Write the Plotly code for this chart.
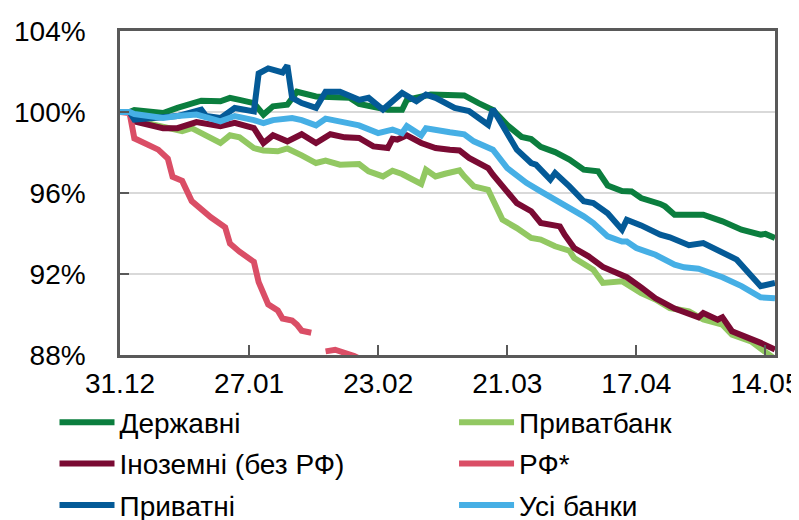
import pandas as pd
import plotly.graph_objects as go

# day offsets from 31.12 and index values (%, 31.12 = 100)
derzh_days = [0, 2, 3, 9, 12, 15, 17, 21, 23, 25, 28, 30, 32, 35, 37, 41, 48, 50, 56, 59,
              60, 65, 72, 75, 78, 81, 84, 86, 88, 91, 94, 97, 100, 102, 105, 107, 109, 113,
              114, 116, 119, 122, 126, 130, 134, 135, 137]
derzh_vals = [100.0, 100.0, 100.1, 99.95, 100.2, 100.44, 100.56, 100.53, 100.7, 100.6, 100.44,
              99.87, 100.28, 100.36, 101.0, 100.77, 100.7, 100.4, 100.11, 100.11, 100.6, 100.86,
              100.82, 100.44, 100.1, 99.35, 98.77, 98.66, 98.28, 98.02, 97.65, 97.15, 97.07,
              96.37, 96.1, 96.08, 95.75, 95.46, 95.34, 94.93, 94.9, 94.93, 94.6, 94.19, 93.94,
              93.98, 93.78]

pb_days = [0, 2, 3, 9, 13, 15, 21, 23, 25, 28, 30, 33, 35, 38, 41, 43, 46, 50, 52, 55, 57, 59,
           63, 64, 66, 68, 71, 72, 74, 77, 79, 80, 83, 86, 88, 91, 94, 95, 99, 101, 105, 108,
           109, 112, 115, 119, 122, 126, 128, 132, 135, 137]
pb_vals = [100.0, 100.0, 99.6, 99.3, 99.05, 99.2, 98.47, 98.85, 98.75, 98.22, 98.1, 98.06, 98.2,
           97.86, 97.48, 97.6, 97.4, 97.43, 97.07, 96.82, 97.1, 96.94, 96.45, 97.15, 96.82,
           96.95, 97.12, 96.82, 96.33, 96.16, 95.26, 94.68, 94.27, 93.78, 93.7, 93.37, 93.15,
           92.79, 92.21, 91.56, 91.64, 91.23, 91.06, 90.74, 90.32, 90.16, 89.75, 89.5, 89.0,
           88.67, 88.18, 87.8]

for_days = [0, 2, 3, 9, 12, 16, 21, 24, 28, 30, 32, 35, 38, 41, 44, 47, 50, 53, 56, 57, 58, 60,
            63, 66, 69, 71, 73, 77, 78, 81, 83, 86, 88, 92, 93, 95, 98, 101, 105, 106, 109, 112,
            116, 121, 122, 125, 126, 128, 134, 137]
for_vals = [100.0, 100.0, 99.54, 99.2, 99.2, 99.5, 99.3, 99.46, 99.2, 98.47, 98.85, 98.55, 98.9,
            98.47, 98.9, 98.75, 98.72, 98.3, 98.22, 98.68, 98.64, 98.85, 98.47, 98.22, 98.14,
            98.1, 97.73, 97.23, 96.9, 96.0, 95.5, 95.1, 94.52, 94.35, 93.94, 93.28, 92.87, 92.35,
            91.89, 91.84, 91.34, 90.8, 90.29, 89.86, 90.07, 89.74, 89.86, 89.17, 88.6, 88.27]

rf_days = [0, 2, 3, 8, 10, 11, 13, 15, 19, 22, 23, 25, 28, 29, 31, 33, 34, 36, 37, 38, 40, 41,
           43, 45, 49, 52]
rf_vals = [100.0, 99.95, 98.7, 98.14, 97.7, 96.8, 96.6, 95.6, 94.8, 94.3, 93.5, 93.1, 92.6, 91.6,
           90.5, 90.2, 89.8, 89.7, 89.5, 89.2, 89.1, None, 88.18, 88.26, 87.95, 87.6]

pr_days = [0, 2, 3, 9, 12, 17, 18, 21, 24, 28, 29, 31, 34, 35, 36, 38, 41, 43, 46, 50, 52, 55,
           59, 62, 64, 66, 70, 73, 75, 77, 78, 80, 81, 83, 86, 87, 90, 91, 94, 97, 99, 102, 105,
           106, 109, 113, 115, 119, 122, 126, 129, 134, 137]
pr_vals = [100.0, 100.0, 99.62, 99.7, 99.8, 100.12, 99.8, 99.7, 100.2, 100.03, 101.9, 102.15,
           101.95, 102.3, 100.7, 100.44, 100.2, 101.0, 101.0, 100.6, 100.7, 100.12, 100.94,
           100.53, 100.86, 100.7, 100.2, 100.05, 99.7, 99.37, 100.15, 99.3, 98.96, 98.14, 97.48,
           97.4, 96.66, 96.99, 96.33, 95.59, 95.5, 95.0, 94.19, 94.68, 94.4, 93.94, 93.81, 93.42,
           93.53, 93.04, 92.71, 91.4, 91.56]

all_days = [0, 2, 3, 9, 12, 16, 21, 24, 28, 30, 32, 36, 38, 41, 43, 50, 54, 57, 59, 60, 63, 64,
            69, 72, 74, 78, 81, 85, 88, 91, 93, 97, 99, 102, 105, 106, 108, 112, 116, 118, 121,
            126, 130, 134, 137]
all_vals = [100.0, 100.0, 99.9, 99.7, 99.8, 99.87, 99.54, 99.8, 99.6, 99.45, 99.6, 99.7, 99.6,
            99.34, 99.67, 99.34, 98.96, 99.13, 98.96, 99.3, 98.85, 99.2, 99.0, 98.9, 98.55,
            98.14, 97.23, 96.5, 96.08, 95.67, 95.43, 94.85, 94.52, 93.86, 93.6, 93.6, 93.28,
            92.95, 92.46, 92.33, 92.26, 91.84, 91.4, 90.85, 90.8]

tick_dates = ['2019-12-31', '2020-01-27', '2020-02-23', '2020-03-21', '2020-04-17', '2020-05-14']
y_ticks = [88, 92, 96, 100, 104]
y_labels = ['88%', '92%', '96%', '100%', '104%']

start = pd.Timestamp('2019-12-31')


def to_dates(days):
    return start + pd.to_timedelta(days, unit='D')


# name, days, values, colour, legend column
series = [
    ('Державні', derzh_days, derzh_vals, '#0B7E3E', 'legend'),
    ('Приватбанк', pb_days, pb_vals, '#92C862', 'legend2'),
    ('Іноземні (без РФ)', for_days, for_vals, '#7A0A33', 'legend'),
    ('РФ*', rf_days, rf_vals, '#DA4E66', 'legend2'),
    ('Приватні', pr_days, pr_vals, '#045A97', 'legend'),
    ('Усі банки', all_days, all_vals, '#46AFE5', 'legend2'),
]

fig = go.Figure()
for name, days, vals, color, leg in series:
    fig.add_trace(go.Scatter(
        x=to_dates(days), y=vals, mode='lines', name=name,
        line=dict(color=color, width=6),
        legend=leg, legendgroup=name,
    ))

axis_col = '#595959'
font = 'Liberation Sans, Arial, sans-serif'
leg_common = dict(
    orientation='v', yanchor='top', xanchor='left', y=-0.131,
    bgcolor='rgba(0,0,0,0)', font=dict(size=28), itemwidth=55,
    tracegroupgap=2,
)

fig.update_layout(
    width=799, height=520,
    margin=dict(l=112, r=32, t=23, b=173, autoexpand=False),
    paper_bgcolor='white', plot_bgcolor='white',
    font=dict(family=font, size=28, color='black'),
    showlegend=True,
    legend=dict(x=-0.1, **leg_common),
    legend2=dict(x=0.51, **leg_common),
    xaxis=dict(
        type='date',
        range=[start, start + pd.Timedelta(days=137)],
        tickvals=tick_dates, tickformat='%d.%m',
        ticks='inside', ticklen=10, tickwidth=2, tickcolor=axis_col,
        showline=True, linecolor=axis_col, linewidth=2.5, mirror=True,
        showgrid=False, ticklabelstandoff=2,
    ),
    yaxis=dict(
        range=[88, 104], tickvals=y_ticks, ticktext=y_labels,
        ticks='inside', ticklen=9, tickwidth=2, tickcolor=axis_col,
        showline=True, linecolor=axis_col, linewidth=2.5, mirror=True,
        showgrid=True, gridcolor='#D9D9D9', gridwidth=1.5, zeroline=False,
        ticklabelstandoff=26,
    ),
)

fig.write_html('out.html')
